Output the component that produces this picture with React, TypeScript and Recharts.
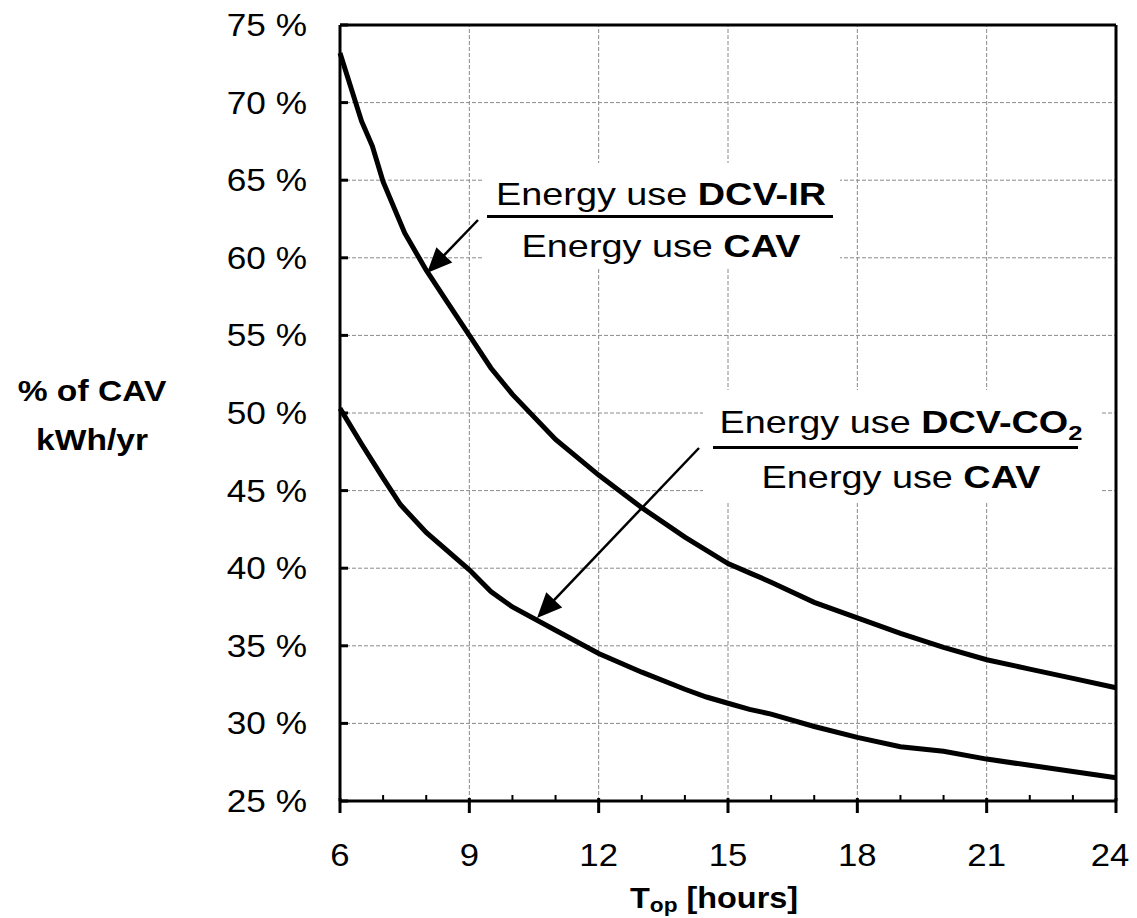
import { Line, LineChart, ReferenceLine, XAxis, YAxis } from "recharts"

// hours of operation vs energy use relative to CAV (%)
const irHours = [6, 6.5, 6.75, 7, 7.5, 8, 8.5, 9, 9.5, 10, 11, 12, 13, 14, 15, 15.5, 16, 17, 18, 19, 20, 21, 22, 23, 24]
const irShare = [73.2, 68.8, 67.2, 64.9, 61.6, 59.2, 57.1, 55.0, 52.9, 51.2, 48.3, 46.0, 43.9, 42.0, 40.3, 39.7, 39.1, 37.8, 36.8, 35.8, 34.9, 34.1, 33.5, 32.9, 32.3]

const co2Hours = [6, 6.5, 7, 7.4, 8, 9, 9.5, 10, 11, 12, 13, 14, 14.5, 15, 15.5, 16, 17, 18, 19, 20, 21, 22, 23, 24]
const co2Share = [50.3, 48.0, 45.8, 44.1, 42.3, 39.9, 38.5, 37.5, 36.0, 34.5, 33.3, 32.2, 31.7, 31.3, 30.9, 30.6, 29.8, 29.1, 28.5, 28.2, 27.7, 27.3, 26.9, 26.5]

const hourTicks = [6, 7, 8, 9, 10, 11, 12, 13, 14, 15, 16, 17, 18, 19, 20, 21, 22, 23, 24]
const gridHours = [9, 12, 15, 18, 21]
const percentTicks = [25, 30, 35, 40, 45, 50, 55, 60, 65, 70, 75]
const gridPercents = [30, 35, 40, 45, 50, 55, 60, 65, 70]

const irData = irHours.map((h, i) => ({ h, v: irShare[i] }))
const co2Data = co2Hours.map((h, i) => ({ h, v: co2Share[i] }))

const FONT = "'Liberation Sans', Arial, sans-serif"
const W = 1129
const H = 910

function HourTick({ x, y, payload }: any) {
  const major = payload.value % 3 === 0
  // last label nudged in so it stays inside the page
  const lx = payload.value === 24 ? x - 6 : x
  return (
    <g>
      {major ? (
        <line x1={x} x2={x} y1={y - 3} y2={y + 12} stroke="#000" strokeWidth={3} />
      ) : (
        <line x1={x} x2={x} y1={y - 6} y2={y} stroke="#000" strokeWidth={2} />
      )}
      {major && (
        <g transform={`translate(${lx},${y + 54}) scale(1.12,1)`}>
          <text x={0} y={0} textAnchor="middle" dominantBaseline="central" fontSize={31} fontFamily={FONT} fill="#000">
            {payload.value}
          </text>
        </g>
      )}
    </g>
  )
}

function PercentTick({ x, y, payload }: any) {
  return (
    <g>
      <line x1={x} x2={x + 8} y1={y} y2={y} stroke="#000" strokeWidth={3} />
      <g transform={`translate(${x - 33},${y}) scale(1.1,1)`}>
        <text x={0} y={0} textAnchor="end" dominantBaseline="central" fontSize={32} fontFamily={FONT} fill="#000">
          {`${payload.value} %`}
        </text>
      </g>
    </g>
  )
}

function Arrow({ x1, y1, x2, y2 }: { x1: number; y1: number; x2: number; y2: number }) {
  const dx = x2 - x1
  const dy = y2 - y1
  const len = Math.hypot(dx, dy)
  const ux = dx / len
  const uy = dy / len
  const hl = 25
  const hw = 11
  const bx = x2 - ux * hl
  const by = y2 - uy * hl
  const pts = `${x2},${y2} ${bx - uy * hw},${by + ux * hw} ${bx + uy * hw},${by - ux * hw}`
  return (
    <g>
      <line x1={x1} y1={y1} x2={bx + ux * 2} y2={by + uy * 2} stroke="#000" strokeWidth={2.5} />
      <polygon points={pts} fill="#000" />
    </g>
  )
}

function Fraction({ cx, top, bottom, barY, barFrom, barTo, numerator }: any) {
  return (
    <g fontFamily={FONT} fontSize={31} fill="#000">
      <g transform={`translate(${cx},${top}) scale(1.22,1)`}>
        <text x={0} y={0} textAnchor="middle">
          {numerator}
        </text>
      </g>
      <line x1={barFrom} x2={barTo} y1={barY} y2={barY} stroke="#000" strokeWidth={3} />
      <g transform={`translate(${cx},${bottom}) scale(1.22,1)`}>
        <text x={0} y={0} textAnchor="middle">
          <tspan>Energy use </tspan>
          <tspan fontWeight="bold">CAV</tspan>
        </text>
      </g>
    </g>
  )
}

function Annotations() {
  return (
    <svg width={W} height={H} style={{ position: "absolute", left: 0, top: 0, pointerEvents: "none", overflow: "visible" }}>
      <rect x={475} y={155} width={357} height={105} fill="#fff" />
      <rect x={695} y={382} width={397} height={113} fill="#fff" />

      <Fraction
        cx={653}
        top={197}
        bottom={249}
        barY={208.5}
        barFrom={479}
        barTo={825}
        numerator={
          <>
            <tspan>Energy use </tspan>
            <tspan fontWeight="bold">DCV-IR</tspan>
          </>
        }
      />
      <Fraction
        cx={893}
        top={425}
        bottom={480}
        barY={439.5}
        barFrom={705}
        barTo={1070}
        numerator={
          <>
            <tspan>Energy use </tspan>
            <tspan fontWeight="bold">DCV-CO</tspan>
            <tspan fontWeight="bold" fontSize={21} dy={7}>2</tspan>
          </>
        }
      />

      <Arrow x1={470} y1={212} x2={419} y2={265} />
      <Arrow x1={691} y1={440} x2={529} y2={610} />

      <g fontFamily={FONT} fontWeight="bold" fontSize={30} fill="#000">
        <g transform="translate(84,393) scale(1.12,1)">
          <text x={0} y={0} textAnchor="middle">% of CAV</text>
        </g>
        <g transform="translate(84,442) scale(1.12,1)">
          <text x={0} y={0} textAnchor="middle">kWh/yr</text>
        </g>
        <g transform="translate(622,900) scale(1.08,1)">
          <text x={0} y={0}>
            <tspan>T</tspan>
            <tspan fontSize={21} dy={4}>op</tspan>
            <tspan dy={-4}>{"  [hours]"}</tspan>
          </text>
        </g>
      </g>
    </svg>
  )
}

export default function App() {
  return (
    <div style={{ position: "relative", width: W, height: H, background: "#fff" }}>
      <style>{"html, body { overflow: hidden; } .recharts-wrapper, .recharts-surface { overflow: visible !important; }"}</style>
      <LineChart width={W} height={H} margin={{ top: 17, right: 21, left: 0, bottom: 0 }}>
        <XAxis
          dataKey="h"
          type="number"
          domain={[6, 24]}
          ticks={hourTicks}
          interval={0}
          height={117}
          tickSize={0}
          tickMargin={0}
          tickLine={false}
          axisLine={{ stroke: "#000", strokeWidth: 3 }}
          tick={<HourTick />}
          allowDuplicatedCategory={false}
        />
        <YAxis
          type="number"
          domain={[25, 75]}
          ticks={percentTicks}
          interval={0}
          width={332}
          tickSize={0}
          tickMargin={0}
          tickLine={false}
          axisLine={{ stroke: "#000", strokeWidth: 3 }}
          tick={<PercentTick />}
        />
        {gridHours.map((h) => (
          <ReferenceLine key={`gx${h}`} x={h} stroke="#8a8a8a" strokeWidth={1} strokeDasharray="4 2" />
        ))}
        {gridPercents.map((p) => (
          <ReferenceLine key={`gy${p}`} y={p} stroke="#8a8a8a" strokeWidth={1} strokeDasharray="4 2" />
        ))}
        <ReferenceLine y={75} stroke="#000" strokeWidth={3} />
        <ReferenceLine x={24} stroke="#000" strokeWidth={3} />
        <Line data={irData} dataKey="v" type="linear" stroke="#000" strokeWidth={5} dot={false} isAnimationActive={false} />
        <Line data={co2Data} dataKey="v" type="linear" stroke="#000" strokeWidth={5} dot={false} isAnimationActive={false} />
      </LineChart>
      <Annotations />
    </div>
  )
}
